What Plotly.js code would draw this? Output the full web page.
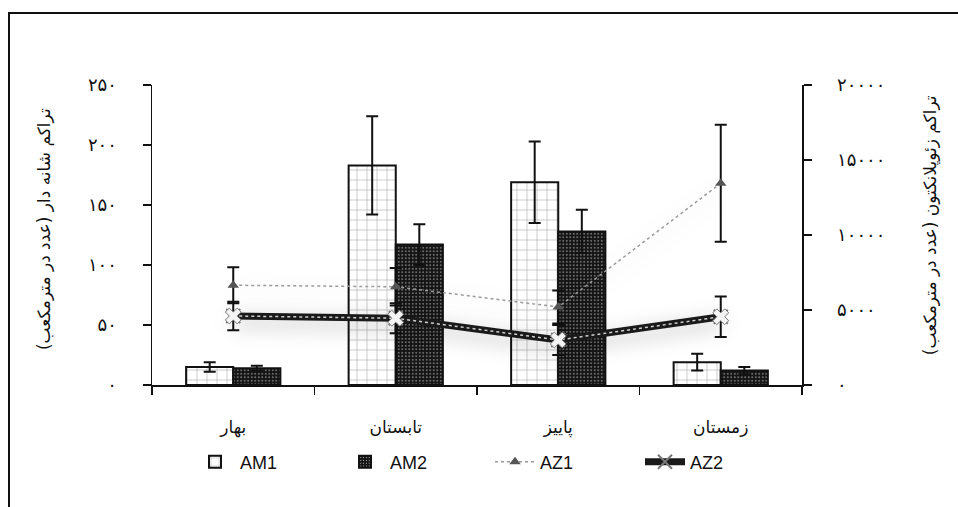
<!DOCTYPE html>
<html>
<head>
<meta charset="utf-8">
<script src="https://cdn.plot.ly/plotly-3.0.1.min.js"></script>
<style>
  html, body { margin: 0; padding: 0; background: #fff; }
  #wrap { position: relative; width: 958px; height: 507px; }
  #chart { width: 958px; height: 507px; }
  #frame { position: absolute; left: 8px; top: 12px; right: -10px; bottom: -10px;
           border-left: 2px solid #111; border-top: 2px solid #111; pointer-events: none; }
</style>
</head>
<body>
<div id="wrap">
  <div id="chart"></div>
  <div id="frame"></div>
</div>
<script>
// ---- data ----
const categories = ['بهار', 'تابستان', 'پاییز', 'زمستان'];

const AM1 = [15, 183, 169, 19];
const AM1_err = [4, 41, 34, 7];
const AM2 = [14, 117, 128, 12];
const AM2_err = [2, 17, 18, 3];

const AZ1 = [6650, 6550, 5200, 13450];
const AZ1_err = [1200, 1250, 1100, 3900];
const AZ2 = [4600, 4450, 3000, 4550];
const AZ2_err = [950, 1000, 1000, 1350];

const leftTickVals = [0, 50, 100, 150, 200, 250];
const leftTickText = ['۰', '۵۰', '۱۰۰', '۱۵۰', '۲۰۰', '۲۵۰'];
const rightTickVals = [0, 5000, 10000, 15000, 20000];
const rightTickText = ['۰', '۵۰۰۰', '۱۰۰۰۰', '۱۵۰۰۰', '۲۰۰۰۰'];

const leftTitle = 'تراکم شانه دار (عدد در مترمکعب)';
const rightTitle = 'تراکم زئوپلانکتون (عدد در مترمکعب)';

const faFont = 'DejaVu Sans, Noto Sans, sans-serif';

const traces = [
  {
    type: 'bar', name: 'AM1', x: categories, y: AM1,
    error_y: { type: 'data', array: AM1_err, visible: true, color: '#111', thickness: 2, width: 6 },
    marker: { color: '#fff', line: { color: '#111', width: 2 },
              pattern: { shape: '+', fgcolor: '#9a9a9a', bgcolor: '#fff', size: 10, solidity: 0.1 } },
    hoverinfo: 'skip'
  },
  {
    type: 'bar', name: 'AM2', x: categories, y: AM2,
    error_y: { type: 'data', array: AM2_err, visible: true, color: '#111', thickness: 2, width: 6 },
    marker: { color: '#111', line: { color: '#111', width: 2 },
              pattern: { shape: '.', fgcolor: '#e6e6e6', bgcolor: '#151515', size: 3.5, solidity: 0.12 } },
    hoverinfo: 'skip'
  },
  {
    type: 'scatter', mode: 'lines+markers', name: 'AZ1', x: categories, y: AZ1, yaxis: 'y2',
    line: { color: '#9a9a9a', width: 1.5, dash: 'dot' },
    marker: { symbol: 'triangle-up', size: 10, color: '#555' },
    error_y: { type: 'data', array: AZ1_err, visible: true, color: '#111', thickness: 2, width: 6 },
    hoverinfo: 'skip'
  },
  {
    type: 'scatter', mode: 'lines+markers', name: 'AZ2', x: categories, y: AZ2, yaxis: 'y2',
    line: { color: '#1a1a1a', width: 7 },
    marker: { symbol: 'x-thin', size: 14, color: '#fff', line: { color: '#777', width: 2 } },
    error_y: { type: 'data', array: AZ2_err, visible: true, color: '#111', thickness: 2, width: 6 },
    hoverinfo: 'skip'
  },
  {
    type: 'scatter', mode: 'lines', x: categories, y: AZ2, yaxis: 'y2', showlegend: false,
    line: { color: '#cfcfcf', width: 1.5, dash: 'dot' }, hoverinfo: 'skip'
  },
  {
    type: 'scatter', mode: 'markers', x: categories, y: AZ2, yaxis: 'y2', showlegend: false,
    marker: { symbol: 'x', size: 14, color: '#f4f4f4', line: { color: '#777', width: 1 } },
    hoverinfo: 'skip'
  }
];

const layout = {
  width: 958, height: 507,
  margin: { l: 152, r: 156, t: 85, b: 122 },
  paper_bgcolor: 'rgba(0,0,0,0)', plot_bgcolor: 'rgba(0,0,0,0)',
  font: { family: faFont, color: '#111' },
  barmode: 'group', bargap: 0.42, bargroupgap: 0,
  showlegend: true,
  legend: { orientation: 'h', x: 0.52, xanchor: 'center', y: -0.257, yanchor: 'middle',
            font: { family: 'Liberation Sans, Arial, sans-serif', size: 18, color: '#111' },
            traceorder: 'normal', entrywidth: 95, itemwidth: 40 },
  xaxis: {
    type: 'category', range: [-0.5, 3.5], tickson: 'boundaries',
    ticks: 'outside', ticklen: 8, tickcolor: '#111', tickwidth: 1.5,
    showline: true, linecolor: '#111', linewidth: 1.5, showgrid: false, zeroline: false,
    tickfont: { family: faFont, size: 17, color: '#111' }, ticklabelstandoff: 26
  },
  xaxis2: {
    overlaying: 'x', anchor: 'y', side: 'bottom', type: 'linear', range: [-0.5, 3.5],
    tickvals: [-0.5, 0.5, 1.5, 2.5, 3.5], ticks: 'inside', ticklen: 5, tickcolor: '#111', tickwidth: 1.5,
    showticklabels: false, showline: false, showgrid: false, zeroline: false
  },
  yaxis: {
    range: [0, 250], tickvals: leftTickVals, ticktext: leftTickText,
    ticks: 'outside', ticklen: 8, tickcolor: '#111', tickwidth: 1.5,
    showline: true, linecolor: '#111', linewidth: 1.5, showgrid: false, zeroline: false,
    tickfont: { family: faFont, size: 18, color: '#111' }, ticklabelstandoff: 22
  },
  yaxis2: {
    overlaying: 'y', side: 'right', range: [0, 20000], tickvals: rightTickVals, ticktext: rightTickText,
    ticks: 'outside', ticklen: 8, tickcolor: '#111', tickwidth: 1.5,
    showline: true, linecolor: '#111', linewidth: 1.5, showgrid: false, zeroline: false,
    tickfont: { family: faFont, size: 18, color: '#111' }, ticklabelstandoff: 22
  },
  yaxis3: {
    overlaying: 'y', side: 'left', anchor: 'x', range: [0, 250], tickvals: leftTickVals,
    ticks: 'inside', ticklen: 8, tickcolor: '#111', tickwidth: 1.5,
    showticklabels: false, showline: false, showgrid: false, zeroline: false
  },
  yaxis4: {
    overlaying: 'y', side: 'right', anchor: 'x', range: [0, 20000], tickvals: rightTickVals,
    ticks: 'inside', ticklen: 8, tickcolor: '#111', tickwidth: 1.5,
    showticklabels: false, showline: false, showgrid: false, zeroline: false
  },
  annotations: [
    { text: leftTitle, xref: 'paper', yref: 'paper', x: -0.166, y: 0.52, textangle: -90,
      showarrow: false, xanchor: 'center', yanchor: 'middle', font: { family: faFont, size: 17, color: '#111' } },
    { text: rightTitle, xref: 'paper', yref: 'paper', x: 1.197, y: 0.533, textangle: -90,
      showarrow: false, xanchor: 'center', yanchor: 'middle', font: { family: faFont, size: 17, color: '#111' } }
  ]
};

Plotly.newPlot('chart', traces, layout, { displayModeBar: false, staticPlot: true }).then(function (gd) {
  // soft grey glow behind the two zooplankton lines, as in the original figure
  const lines = gd.querySelectorAll('.scatterlayer .trace');
  [0, 1].forEach(function (i) {
    const t = lines[i];
    if (!t) return;
    const p = t.querySelector('path.js-line');
    if (p) p.style.filter = 'drop-shadow(0px 6px 10px rgba(0,0,0,0.28))';
  });
});
</script>
</body>
</html>
